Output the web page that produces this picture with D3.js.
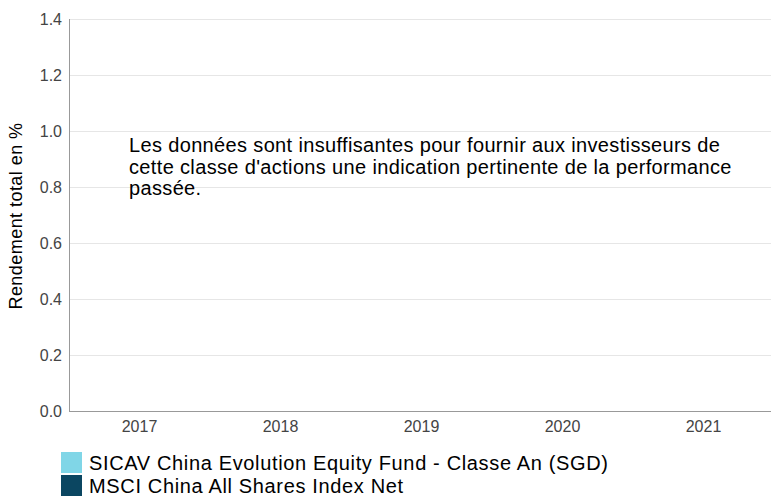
<!DOCTYPE html>
<html>
<head>
<meta charset="utf-8">
<script src="https://cdn.jsdelivr.net/npm/d3@7"></script>
<style>
  body { margin: 0; background: #fff; }
  svg { font-family: "Liberation Sans", Arial, sans-serif; display: block; }
</style>
</head>
<body>
<div id="chart"></div>
<script>
var years = ["2017", "2018", "2019", "2020", "2021"];
var fundValues = [null, null, null, null, null]; // pas de données
var indexValues = [null, null, null, null, null];
var yTicks = [0, 0.2, 0.4, 0.6, 0.8, 1.0, 1.2, 1.4];
var seriesNames = ["SICAV China Evolution Equity Fund - Classe An (SGD)", "MSCI China All Shares Index Net"];
var seriesColors = ["#80d6e7", "#0b4661"];
var message = [
  "Les données sont insuffisantes pour fournir aux investisseurs de",
  "cette classe d'actions une indication pertinente de la performance",
  "passée."
];

var widthx = 771, heighty = 497;
var margin = {top: 19, right: 0, bottom: 86, left: 69};
var width = widthx - margin.left - margin.right,
    height = heighty - margin.top - margin.bottom;

var svg = d3.select("#chart").append("svg")
    .attr("width", widthx)
    .attr("height", heighty);

var g = svg.append("g")
    .attr("transform", "translate(" + margin.left + "," + margin.top + ")");

var x = d3.scaleBand().domain(years).range([0, 705]);
var y = d3.scaleLinear().domain([0, 1.4]).range([height, 0]);

// grille
g.selectAll(".grid")
    .data(yTicks.filter(function(d) { return d > 0; }))
    .enter().append("line")
    .attr("x1", 0).attr("x2", width)
    .attr("y1", function(d) { return y(d) + 0.5; })
    .attr("y2", function(d) { return y(d) + 0.5; })
    .attr("stroke", "#e6e6e6");

// axe Y
var yAxis = g.append("g")
    .call(d3.axisLeft(y).tickValues(yTicks).tickFormat(d3.format(".1f")).tickSize(0).tickPadding(7));
yAxis.select(".domain").remove();
yAxis.selectAll("text").attr("fill", "#444").style("font-size", "16px");

g.append("line")
    .attr("x1", 0.5).attr("x2", 0.5)
    .attr("y1", 0).attr("y2", height)
    .attr("stroke", "#999");

// axe X
var xAxis = g.append("g")
    .attr("transform", "translate(0," + height + ")")
    .call(d3.axisBottom(x).tickSize(0).tickPadding(10));
xAxis.select(".domain").remove();
xAxis.selectAll("text").attr("fill", "#444").style("font-size", "16px");

g.append("line")
    .attr("x1", 0).attr("x2", width)
    .attr("y1", height + 0.5).attr("y2", height + 0.5)
    .attr("stroke", "#999");

// barres (aucune valeur)
var sub = d3.scaleBand().domain([0, 1]).range([0, x.bandwidth()]).padding(0.2);
[fundValues, indexValues].forEach(function(vals, i) {
  g.selectAll(".bar" + i)
    .data(years.filter(function(d, j) { return vals[j] != null; }))
    .enter().append("rect")
    .attr("x", function(d) { return x(d) + sub(i); })
    .attr("y", function(d) { return y(vals[years.indexOf(d)]); })
    .attr("width", sub.bandwidth())
    .attr("height", function(d) { return height - y(vals[years.indexOf(d)]); })
    .attr("fill", seriesColors[i]);
});

// titre axe Y
svg.append("text")
    .attr("transform", "translate(22,216) rotate(-90)")
    .attr("text-anchor", "middle")
    .style("font-size", "18px")
    .style("letter-spacing", "0.45px")
    .attr("fill", "#000")
    .text("Rendement total en %");

// message
svg.append("g").selectAll("text")
    .data(message)
    .enter().append("text")
    .attr("x", 129)
    .attr("y", function(d, i) { return 152 + i * 21.5; })
    .style("font-size", "20px")
    .style("letter-spacing", "0.35px")
    .attr("fill", "#000")
    .text(function(d) { return d; });

// légende
var legend = svg.append("g").selectAll("g")
    .data(seriesNames)
    .enter().append("g")
    .attr("transform", function(d, i) { return "translate(61," + (452 + i * 23) + ")"; });
legend.append("rect")
    .attr("width", 21).attr("height", 21)
    .attr("fill", function(d, i) { return seriesColors[i]; });
legend.append("text")
    .attr("x", 28).attr("y", 18)
    .style("font-size", "20px")
    .style("letter-spacing", "0.65px")
    .attr("fill", "#000")
    .text(function(d) { return d; });
</script>
</body>
</html>
